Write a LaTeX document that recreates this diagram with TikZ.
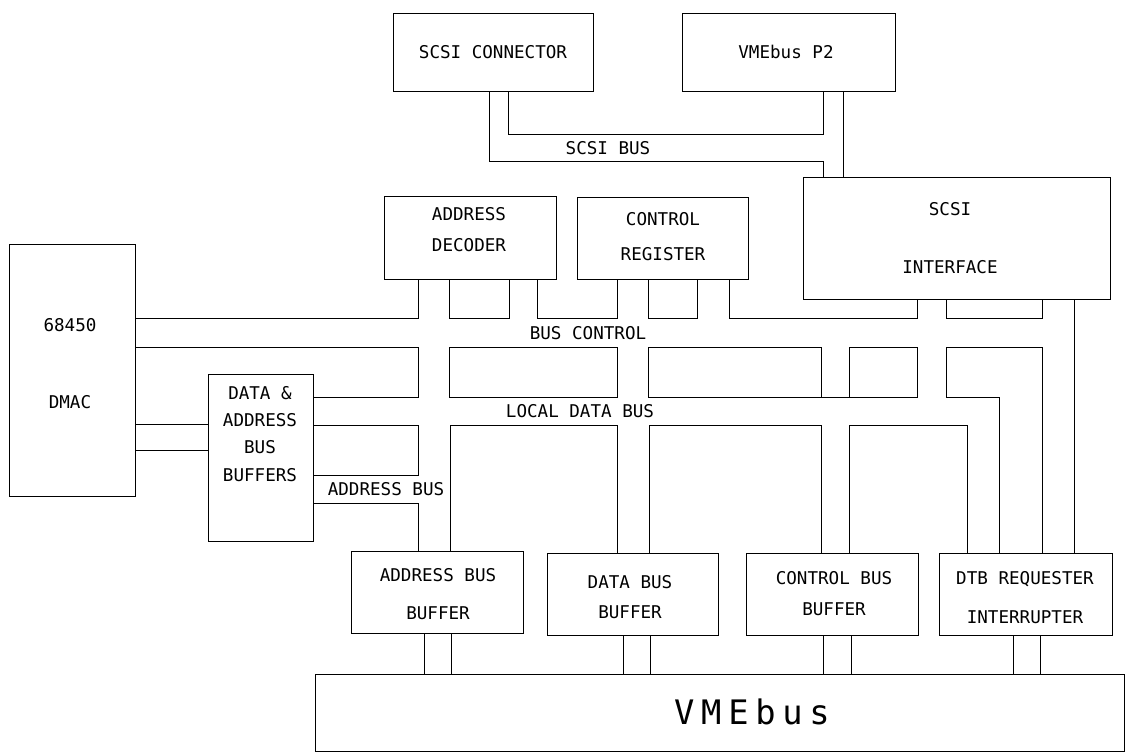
\documentclass[tikz,border=0pt]{standalone}
\usepackage{fontspec}
\newfontfamily\plotfont{DejaVu Sans Mono}
\newfontfamily\plotwide[LetterSpace=20]{DejaVu Sans Mono}
\usetikzlibrary{fit}

\begin{document}
\begin{tikzpicture}[x=0.025cm, y=-0.025cm, line width=0.7pt,
    every node/.style={font=\plotfont\fontsize{12.5}{15}\selectfont}]
  \tikzset{
    blk/.style={draw, inner sep=0pt},
    txt/.style={align=center},
    buslabel/.style={inner sep=1pt}
  }
  \useasboundingbox (0,0) rectangle (1126,753);

  % top row
  \node[blk, fit={(393,13) (593,91)}] (scon) {};
  \node[blk, fit={(682,13) (895,91)}] (p2) {};
  \node[blk, fit={(803,177) (1110,299)}] (sif) {};
  \node[txt] (sconT) at (493,52) {SCSI CONNECTOR};
  \node[txt] (p2T) at (786,52) {VMEbus P2};
  \node[txt] (sifT) at (950,238) {SCSI\\[26pt]INTERFACE};

  % middle row
  \node[blk, fit={(384,196) (556,279)}] (dec) {};
  \node[blk, fit={(577,197) (748,279)}] (creg) {};
  \node[blk, fit={(9,244) (135,496)}] (dmac) {};
  \node[blk, fit={(208,374) (313,541)}] (dab) {};
  \node[txt] (decT) at (469,230) {ADDRESS\\[7pt]DECODER};
  \node[txt] (cregT) at (663,236.5) {CONTROL\\[9.8pt]REGISTER};
  \node[txt] (dmacT) at (70,363.5) {68450\\[39.6pt]DMAC};
  \node[txt] (dabT) at (260,434) {DATA \&\\[4.3pt]ADDRESS\\[4.3pt]BUS\\[4.3pt]BUFFERS};

  % bottom row
  \node[blk, fit={(351,551) (523,633)}] (aBuf) {};
  \node[blk, fit={(547,553) (718,635)}] (dBuf) {};
  \node[blk, fit={(746,553) (918,635)}] (cBuf) {};
  \node[blk, fit={(939,553) (1112,635)}] (dtb) {};
  \node[blk, fit={(315,674) (1124,751)}] (vme) {};
  \node[txt] (aBufT) at (438,594) {ADDRESS BUS\\[12pt]BUFFER};
  \node[txt] (dBufT) at (630,597) {DATA BUS\\[6.3pt]BUFFER};
  \node[txt] (cBufT) at (834,593.5) {CONTROL BUS\\[7pt]BUFFER};
  \node[txt] (dtbT) at (1025,597.5) {DTB REQUESTER\\[12.7pt]INTERRUPTER};
  \node[font=\plotwide\fontsize{24}{28}\selectfont] (vmeT) at (752,712) {VMEbus};

  % bus labels
  \node[buslabel] (lscsi) at (608,148) {SCSI BUS};
  \node[buslabel] (lctl) at (588,333) {BUS CONTROL};
  \node[buslabel] (lldb) at (580,411) {LOCAL DATA BUS};
  \node[buslabel] (ladr) at (386,489) {ADDRESS BUS};

  % SCSI bus
  \draw (scon.south -| 508,0) -- (508,134) -- (823,134) -- (p2.south -| 823,0);
  \draw (scon.south -| 489,0) -- (489,161) -- (823,161) -- (sif.north -| 823,0);
  \draw (p2.south -| 843,0) -- (sif.north -| 843,0);

  % bus control, upper edge
  \draw (dmac.east |- 0,318) -- (418,318) -- (dec.south -| 418,0);
  \draw (dec.south -| 449,0) -- (449,318) -- (509,318) -- (dec.south -| 509,0);
  \draw (dec.south -| 537,0) -- (537,318) -- (617,318) -- (creg.south -| 617,0);
  \draw (creg.south -| 648,0) -- (648,318) -- (697,318) -- (creg.south -| 697,0);
  \draw (creg.south -| 729,0) -- (729,318) -- (917,318) -- (sif.south -| 917,0);
  \draw (sif.south -| 946,0) -- (946,318) -- (1042,318) -- (sif.south -| 1042,0);
  \draw (sif.south -| 1074,0) -- (dtb.north -| 1074,0);

  % bus control, lower edge / local data bus, upper edge
  \draw (dmac.east |- 0,347) -- (418,347) -- (418,397) -- (dab.east |- 0,397);
  \draw (449,347) rectangle (617,397);
  \draw (821,397) -- (821,347) -- (648,347) -- (648,397) -- (917,397) -- (917,347) -- (849,347) -- (849,397);
  \draw (dtb.north -| 999,0) -- (999,397) -- (946,397) -- (946,347) -- (1042,347) -- (dtb.north -| 1042,0);

  % local data bus, lower edge / address bus
  \draw (dab.east |- 0,425) -- (418,425) -- (418,475) -- (dab.east |- 0,475);
  \draw (dab.east |- 0,503) -- (418,503) -- (aBuf.north -| 418,0);
  \draw (aBuf.north -| 450,0) -- (450,425) -- (617,425) -- (dBuf.north -| 617,0);
  \draw (dBuf.north -| 649,0) -- (649,425) -- (821,425) -- (cBuf.north -| 821,0);
  \draw (cBuf.north -| 849,0) -- (849,425) -- (967,425) -- (dtb.north -| 967,0);

  % DMAC to buffers
  \draw (dmac.east |- 0,424) -- (dab.west |- 0,424);
  \draw (dmac.east |- 0,450) -- (dab.west |- 0,450);

  % buffers to VMEbus
  \foreach \x/\b in {424/aBuf, 451/aBuf, 623/dBuf, 650/dBuf, 823/cBuf, 851/cBuf, 1013/dtb, 1040/dtb}
    \draw (\b.south -| \x,0) -- (vme.north -| \x,0);
\end{tikzpicture}
\end{document}
